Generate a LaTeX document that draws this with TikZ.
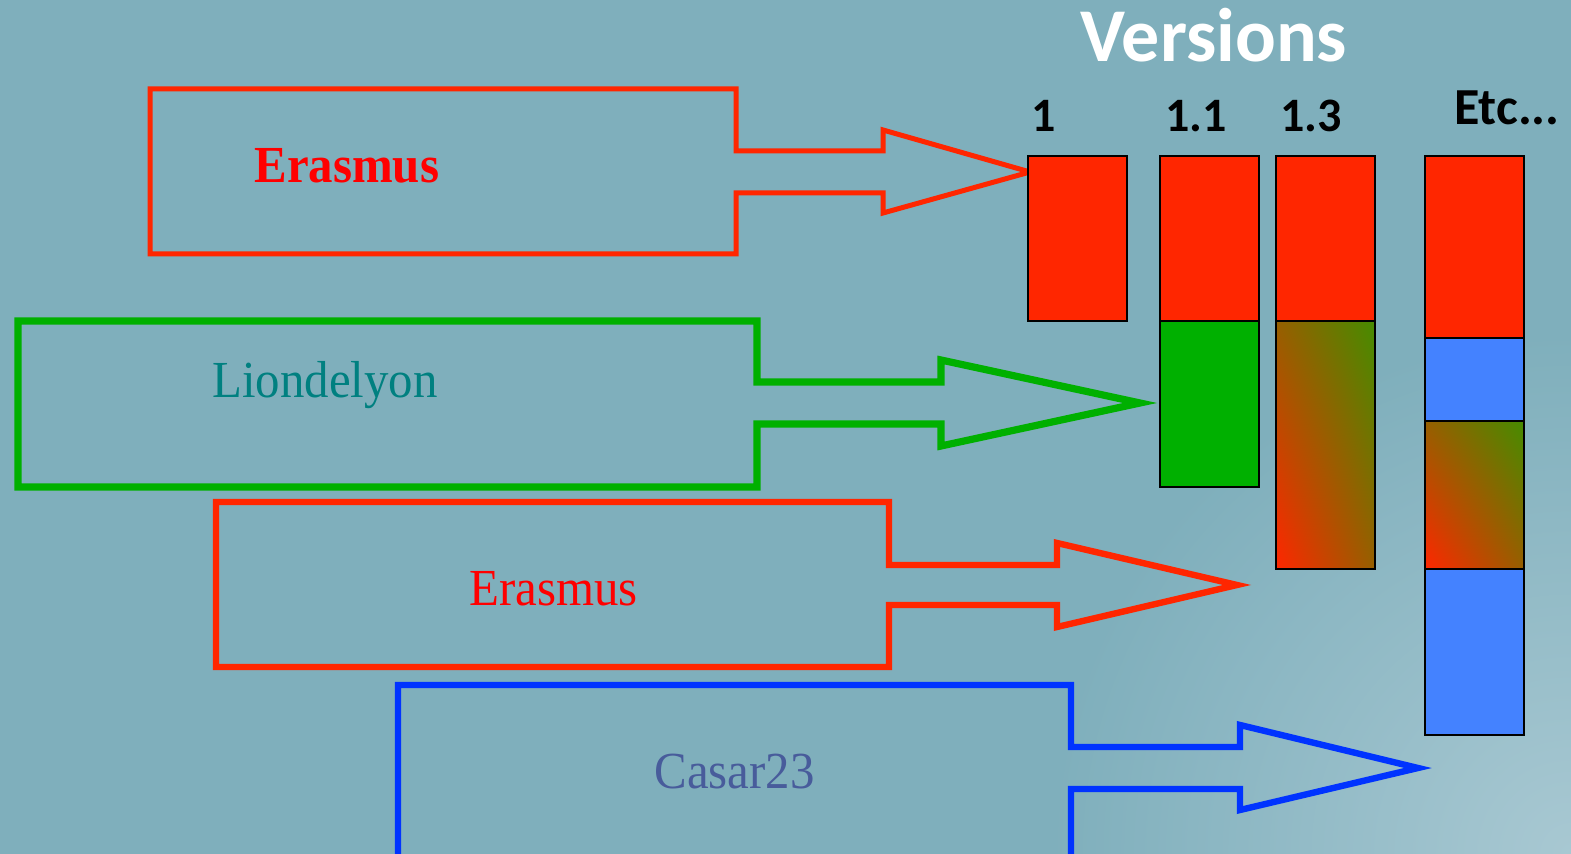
\documentclass[tikz,border=0pt]{standalone}
\usepackage{fontspec}
\usetikzlibrary{shadings}
\setmainfont{Liberation Serif}
\newfontfamily\calibri{Carlito}
\definecolor{bgblue}{RGB}{127,175,188}
\definecolor{bglight}{RGB}{168,200,210}
\definecolor{ered}{RGB}{255,38,0}
\definecolor{tred}{RGB}{255,0,0}
\definecolor{lgreen}{RGB}{0,176,0}
\definecolor{cblue}{RGB}{0,51,255}
\definecolor{barblue}{RGB}{68,130,255}
\definecolor{mixgreen}{RGB}{70,140,0}
\definecolor{mixbrown}{RGB}{150,95,0}
\definecolor{lteal}{RGB}{0,128,128}
\definecolor{cslate}{RGB}{72,92,155}
\tikzset{
	callout/.style={line width=3.2pt, line join=miter},
	bar/.style={draw=black, line width=1pt},
	version/.style={anchor=base, font=\calibri\bfseries\fontsize{24}{28}\selectfont},
	project/.style={anchor=base west, inner sep=0pt, font=\fontsize{26}{30}\selectfont}
}
\newcommand{\narrow}[1]{\scalebox{0.94}[1]{#1}}
\begin{document}
\begin{tikzpicture}[x=0.5pt,y=-0.5pt]
	\useasboundingbox (0,0) rectangle (1571,854);
	\fill[bgblue] (0,0) rectangle (1571,854);
	\begin{scope}
		\clip (0,0) rectangle (1571,854);
		\shade[inner color=bglight, outer color=bgblue] (1571,854) circle (520);
	\end{scope}
	% callouts
	\draw[callout, ered, line width=2.5pt] (150,89) -- (736,89) -- (736,151) -- (883,151) -- (883,130) -- (1030,172) -- (883,213) -- (883,193) -- (736,193) -- (736,254) -- (150,254) -- cycle;
	\draw[callout, lgreen, line width=3.6pt] (18,321) -- (757,321) -- (757,382) -- (941,382) -- (941,360) -- (1140,403) -- (941,446) -- (941,424) -- (757,424) -- (757,487) -- (18,487) -- cycle;
	\draw[callout, ered] (216,502) -- (889,502) -- (889,565) -- (1057,565) -- (1057,543) -- (1237,585) -- (1057,627) -- (1057,605) -- (889,605) -- (889,667) -- (216,667) -- cycle;
	\draw[callout, cblue] (398,862) -- (398,685) -- (1071,685) -- (1071,747) -- (1240,747) -- (1240,725) -- (1418,768) -- (1240,810) -- (1240,789) -- (1071,789) -- (1071,862);
	\node[project, font=\bfseries\fontsize{26}{30}\selectfont, text=tred] (erasmusA) at (254,183) {\narrow{Erasmus}};
	\node[project, text=lteal] (liondelyon) at (212,398) {\narrow{Liondelyon}};
	\node[project, text=tred] (erasmusB) at (469,606) {\narrow{Erasmus}};
	\node[project, text=cslate] (casar) at (654,789) {\narrow{Casar23}};
	% version bars
	\draw[bar, fill=ered] (1028,156) rectangle (1127,321);
	\draw[bar, fill=ered] (1160,156) rectangle (1259,321);
	\draw[bar, fill=lgreen] (1160,321) rectangle (1259,487);
	\draw[bar, fill=ered] (1276,156) rectangle (1375,321);
	\shade[lower left=ered, upper right=mixgreen, upper left=mixbrown, lower right=mixbrown] (1276,321) rectangle (1375,569);
	\draw[bar] (1276,321) rectangle (1375,569);
	\draw[bar, fill=ered] (1425,156) rectangle (1524,338);
	\draw[bar, fill=barblue] (1425,338) rectangle (1524,421);
	\shade[lower left=ered, upper right=mixgreen, upper left=mixbrown, lower right=mixbrown] (1425,421) rectangle (1524,569);
	\draw[bar] (1425,421) rectangle (1524,569);
	\draw[bar, fill=barblue] (1425,569) rectangle (1524,735);
	% labels
	\node[anchor=base, text=white, font=\calibri\bfseries\fontsize{38}{42}\selectfont] (versions) at (1214,62) {Versions};
	\node[version] (vone) at (1044,132) {1};
	\node[version] (voneone) at (1196,132) {1.1};
	\node[version] (vonethree) at (1311,132) {1.3};
	\node[version, font=\calibri\bfseries\fontsize{26}{30}\selectfont] (vetc) at (1507,125) {Etc...};
\end{tikzpicture}
\end{document}
